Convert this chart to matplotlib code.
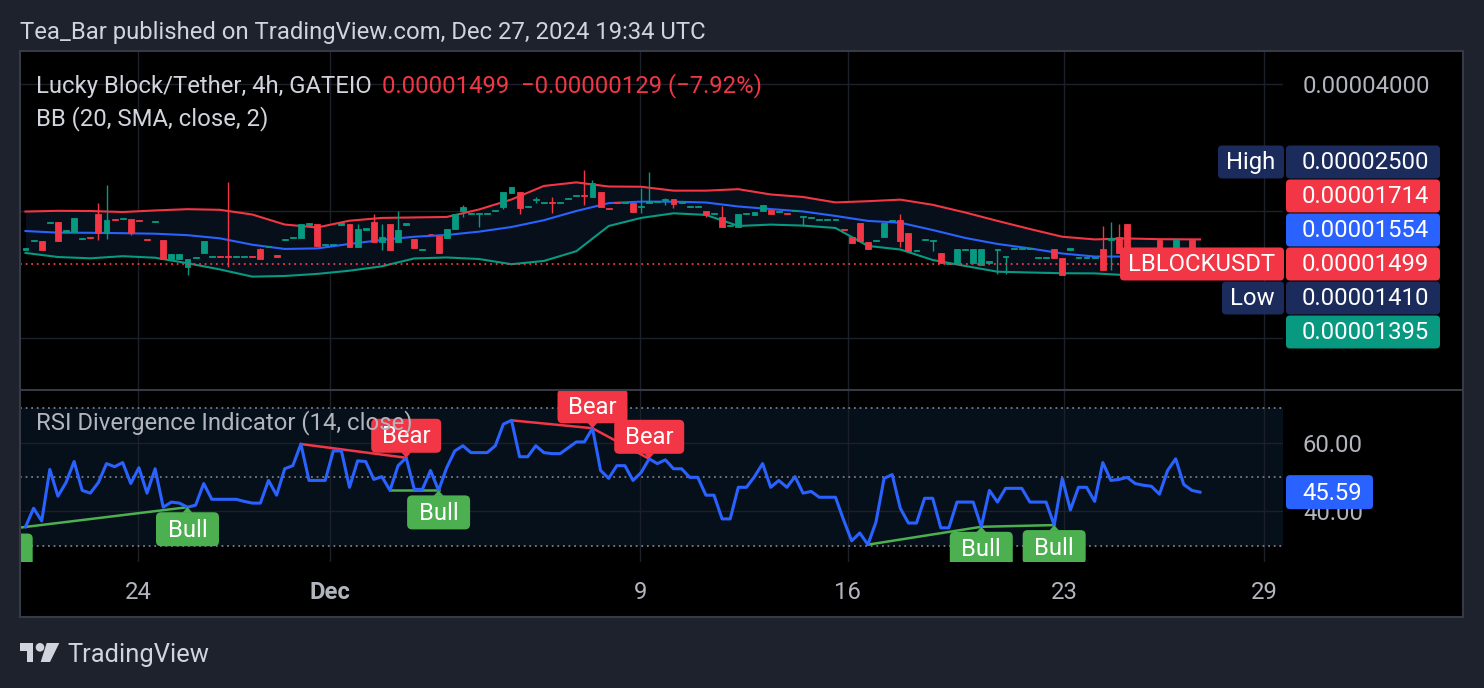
import numpy as np
import matplotlib.pyplot as plt
from matplotlib.patches import FancyBboxPatch, Polygon, Circle, Rectangle
from matplotlib.lines import Line2D
from matplotlib.transforms import IdentityTransform
from matplotlib.ticker import FixedLocator, NullLocator, FuncFormatter

plt.rcParams['font.family'] = ['Roboto', 'DejaVu Sans']

W, H, DPI = 1484, 688, 100

# LBLOCK/USDT 4h candles, prices in units of 1e-8 USDT
open_e8 = [
    1618, 1695, 1703, 1870, 1888, 1785, 1788, 1714, 1737, 1969,
    1772, 1911, 1911, 1913, 1904, 1714, 1883, 1709, 1538, 1538,
    1477, 1547, 1594, 1556, 1564, 1564, 1556, 1556, 1564, 1624,
    1643, 1570, 1704, 1726, 1725, 1859, 1864, 1658, 1658, 1859,
    1864, 1642, 1809, 1888, 1693, 1864, 1693, 1859, 1716, 1620,
    1770, 1747, 1725, 1811, 2001, 1971, 1971, 1971, 1996, 2042,
    2212, 2224, 2043, 2119, 2093, 2104, 2093, 2131, 2170, 2182,
    2164, 2216, 2029, 2100, 2089, 2087, 2043, 2091, 2100, 2119,
    2133, 2089, 2043, 2043, 2004, 1971, 1940, 1839, 1837, 1971,
    1958, 2004, 2012, 1988, 1982, 1999, 1935, 1925, 1901, 1901,
    1901, 1816, 1734, 1872, 1693, 1698, 1734, 1890, 1906, 1772,
    1607, 1704, 1698, 1594, 1501, 1505, 1620, 1505, 1491, 1511,
    1620, 1556, 1629, 1629, 1629, 1551, 1551, 1627, 1546, 1622,
    1551, 1551, 1551, 1627, 1709, 1740, 1864, 1618, 1592, 1587,
    1709, 1609, 1600, 1614, 1709, 1628]
close_e8 = [
    1632, 1709, 1618, 1885, 1703, 1804, 1924, 1723, 1728, 1772,
    1906, 1901, 1922, 1772, 1894, 1704, 1894, 1538, 1580, 1580,
    1538, 1556, 1703, 1564, 1556, 1556, 1564, 1564, 1556, 1538,
    1652, 1561, 1714, 1735, 1864, 1870, 1654, 1668, 1668, 1870,
    1642, 1811, 1819, 1693, 1734, 1618, 1804, 1870, 1633, 1629,
    1761, 1589, 1811, 1969, 2046, 1982, 1982, 1982, 2007, 2216,
    2277, 2031, 2055, 2131, 2104, 2093, 2104, 2143, 2182, 2170,
    2328, 2049, 2018, 2089, 2100, 1994, 2055, 2117, 2111, 2131,
    2079, 2100, 2055, 2055, 1958, 1982, 1831, 1849, 1969, 1982,
    1994, 2068, 1969, 1999, 1971, 2010, 1946, 1935, 1911, 1911,
    1911, 1806, 1684, 1703, 1624, 1707, 1878, 1901, 1703, 1609,
    1616, 1714, 1707, 1505, 1509, 1624, 1629, 1624, 1624, 1520,
    1629, 1564, 1638, 1638, 1638, 1559, 1559, 1546, 1412, 1632,
    1559, 1559, 1559, 1451, 1728, 1589, 1600, 1609, 1600, 1578,
    1574, 1618, 1709, 1622, 1628, 1499]
high_e8 = [
    1632, 1709, 1703, 1885, 1888, 1804, 1924, 1723, 1737, 2087,
    2306, 1911, 1922, 1913, 1904, 1714, 1894, 1709, 1580, 1580,
    1538, 1556, 1703, 1564, 1564, 2348, 1564, 1564, 1564, 1639,
    1652, 1570, 1714, 1735, 1864, 1870, 1864, 1668, 1668, 1870,
    1864, 1864, 1819, 1969, 1864, 1864, 2001, 1870, 1716, 1629,
    1770, 1747, 1811, 1969, 2068, 1982, 1982, 1982, 2007, 2216,
    2277, 2224, 2055, 2160, 2104, 2164, 2104, 2143, 2182, 2500,
    2370, 2216, 2029, 2100, 2100, 2087, 2265, 2480, 2111, 2148,
    2133, 2100, 2055, 2055, 2004, 1982, 2057, 1849, 1969, 1982,
    1994, 2068, 2012, 1999, 1982, 2010, 1946, 1935, 1911, 1911,
    1911, 1816, 1734, 1872, 1693, 1707, 1878, 1901, 1969, 1772,
    1616, 1714, 1707, 1594, 1509, 1624, 1629, 1624, 1624, 1520,
    1629, 1564, 1638, 1638, 1638, 1559, 1559, 1627, 1546, 1632,
    1559, 1559, 1559, 1844, 1888, 1864, 1864, 1618, 1600, 1587,
    1709, 1618, 1728, 1622, 1709, 1628]
low_e8 = [
    1618, 1695, 1618, 1870, 1703, 1785, 1788, 1714, 1728, 1709,
    1716, 1901, 1911, 1756, 1894, 1704, 1883, 1538, 1538, 1538,
    1410, 1547, 1594, 1556, 1556, 1473, 1556, 1556, 1556, 1538,
    1643, 1561, 1704, 1726, 1725, 1859, 1654, 1658, 1658, 1859,
    1642, 1642, 1809, 1693, 1618, 1618, 1693, 1859, 1633, 1620,
    1761, 1589, 1725, 1811, 1940, 1971, 1834, 1971, 1996, 2023,
    2212, 1969, 2043, 2091, 2093, 1976, 2093, 2131, 2170, 2068,
    2164, 2049, 2018, 2089, 2089, 1994, 1976, 2091, 2100, 2068,
    2034, 2089, 2043, 2043, 1937, 1971, 1831, 1839, 1837, 1971,
    1958, 2004, 1969, 1988, 1971, 1999, 1844, 1925, 1901, 1901,
    1901, 1806, 1684, 1703, 1624, 1698, 1734, 1890, 1648, 1609,
    1607, 1704, 1609, 1505, 1501, 1505, 1620, 1505, 1491, 1511,
    1420, 1420, 1629, 1629, 1629, 1551, 1551, 1546, 1412, 1622,
    1551, 1551, 1551, 1451, 1451, 1589, 1600, 1609, 1592, 1578,
    1574, 1609, 1600, 1614, 1628, 1499]

# Bollinger bands (20, 2), read every 4th bar, same units
bb_bars = list(range(0, 141, 4)) + [145]
bb_upper_e8 = [1995, 2003, 2001, 1990, 2007, 2021, 2014, 1963, 1859, 1829,
               1898, 1927, 1932, 1937, 2018, 2131, 2294, 2339, 2287, 2284,
               2236, 2236, 2254, 2190, 2160, 2097, 2111, 2129, 2070, 1985,
               1896, 1814, 1739, 1714, 1723, 1716, 1714]
bb_mid_e8 = [1794, 1778, 1777, 1773, 1768, 1754, 1724, 1665, 1627, 1632,
             1672, 1709, 1739, 1756, 1788, 1834, 1903, 2001, 2089, 2106,
             2106, 2096, 2051, 2022, 1996, 1948, 1896, 1877, 1804, 1728,
             1672, 1632, 1587, 1561, 1561, 1557, 1554]
bb_lower_e8 = [1592, 1557, 1546, 1564, 1551, 1505, 1455, 1399, 1404, 1420,
               1445, 1480, 1545, 1553, 1540, 1497, 1524, 1607, 1844, 1927,
               1976, 1959, 1844, 1858, 1848, 1824, 1654, 1622, 1532, 1483,
               1437, 1431, 1425, 1424, 1410, 1403, 1395]

# RSI(14)
rsi = [35.5, 40.9, 37.2, 52.2, 44.4, 48.4, 54.5, 46.1, 45.3, 48.4,
       53.9, 53.0, 54.2, 48.1, 52.7, 45.3, 52.4, 41.2, 42.7, 42.4,
       41.2, 41.8, 48.1, 43.5, 43.5, 43.5, 43.5, 42.9, 42.4, 42.4,
       49.0, 44.7, 52.4, 53.3, 59.6, 49.0, 49.0, 49.0, 57.6, 57.6,
       47.0, 54.7, 54.5, 49.3, 50.1, 46.1, 53.3, 55.6, 46.4, 46.4,
       51.9, 46.1, 52.7, 57.6, 59.1, 57.1, 57.1, 57.1, 59.1, 65.4,
       66.5, 55.9, 55.9, 59.1, 57.1, 56.8, 56.8, 58.5, 60.2, 60.2,
       64.2, 51.9, 49.6, 53.3, 53.3, 49.0, 51.3, 55.3, 53.9, 55.0,
       52.4, 52.4, 49.9, 49.9, 44.7, 44.7, 37.8, 37.8, 47.0, 47.0,
       50.1, 53.9, 47.0, 49.0, 47.0, 50.1, 45.3, 45.8, 44.1, 44.1,
       44.1, 37.5, 31.4, 33.7, 30.3, 36.9, 49.6, 50.7, 40.9, 36.6,
       36.6, 43.8, 43.8, 35.2, 35.2, 42.7, 42.7, 42.7, 35.5, 46.1,
       42.7, 46.7, 46.7, 46.7, 42.7, 42.7, 42.7, 36.0, 49.6, 40.4,
       47.0, 47.0, 42.9, 54.2, 49.0, 49.3, 49.9, 48.1, 47.6, 47.3,
       45.0, 51.9, 55.3, 47.8, 46.1, 45.59]

# divergence lines (bar, rsi) -> (bar, rsi)
div_kind = ['bull', 'bear', 'bull', 'bear', 'bear', 'bull', 'bull']
div_from_bar = [-3, 34, 45, 60, 70, 104, 118]
div_from_rsi = [34.6, 59.6, 46.1, 66.5, 64.2, 30.3, 35.5]
div_to_bar = [20, 47, 51, 70, 77, 118, 127]
div_to_rsi = [41.2, 55.6, 46.1, 64.2, 55.3, 35.5, 36.0]
# signal labels
sig_kind = ['bull', 'bull', 'bear', 'bull', 'bear', 'bear', 'bull', 'bull']
sig_bar = [-3, 20, 47, 51, 70, 77, 118, 127]
sig_rsi = [35.0, 41.2, 55.6, 46.1, 64.2, 55.3, 35.5, 36.0]

# time axis
tick_pos = [13.9, 37.6, 75.9, 101.5, 128.2, 152.9]
tick_labels = ['24', 'Dec', '9', '16', '23', '29']

BG = '#1e222d'
GRID = '#1c2029'
BORDER = '#363a45'
TEXT = '#d1d4dc'
AXTEXT = '#b2b5be'
UP = '#089981'
DOWN = '#f23645'
BLUE = '#2962ff'
NAVY = '#1b2c5c'
BULL = '#4caf50'
FS = 17.2

o = np.array(open_e8) * 1e-8
c = np.array(close_e8) * 1e-8
hi = np.array(high_e8) * 1e-8
lo = np.array(low_e8) * 1e-8
x = np.arange(len(o))

fig = plt.figure(figsize=(W / DPI, H / DPI), dpi=DPI, facecolor=BG)
ID = IdentityTransform()


def Y(y):  # top-down pixel -> display
    return H - y


# chart frame
fig.add_artist(Rectangle((20, Y(617)), 1443, 566, fc='black', ec='none',
                         transform=ID, zorder=-1))

ax_p = fig.add_axes([20 / W, (H - 390) / H, 1263 / W, 339 / H], facecolor='black')
ax_r = fig.add_axes([20 / W, (H - 562) / H, 1263 / W, 171 / H], facecolor='black')
for ax in (ax_p, ax_r):
    for s in ax.spines.values():
        s.set_visible(False)
    ax.set_xlim(-0.68, 155.25)
    ax.set_xticks(tick_pos)
    ax.grid(True, color=GRID, lw=1.0)
    ax.set_axisbelow(True)
    ax.yaxis.tick_right()
    ax.tick_params(axis='y', length=0, pad=14.4, labelsize=FS, labelcolor=AXTEXT)
    ax.tick_params(axis='x', length=0)

# ---- price pane
ax_p.set_yscale('log')
ax_p.set_ylim(7.54e-6, 4.788e-5)
ax_p.yaxis.set_major_locator(FixedLocator([1e-5, 2e-5, 4e-5]))
ax_p.yaxis.set_minor_locator(NullLocator())
# the lower scale labels sit under the price tags, only the top one shows
ax_p.yaxis.set_major_formatter(FuncFormatter(lambda v, p: f'{v:.8f}' if v > 3e-5 else ''))
ax_p.tick_params(axis='x', labelbottom=False)

bu = np.array(bb_upper_e8) * 1e-8
bm = np.array(bb_mid_e8) * 1e-8
bl = np.array(bb_lower_e8) * 1e-8
ax_p.fill_between(bb_bars, bl, bu, color='#07101a', lw=0, zorder=1)
ax_p.plot(bb_bars, bu, color=DOWN, lw=1.5, zorder=2)
ax_p.plot(bb_bars, bm, color=BLUE, lw=1.5, zorder=2)
ax_p.plot(bb_bars, bl, color=UP, lw=1.5, zorder=2)

cols = np.where(c >= o, UP, DOWN)
ax_p.vlines(x, lo, hi, colors=cols, lw=1.0, zorder=3)
ax_p.bar(x, np.abs(c - o), bottom=np.minimum(o, c), width=0.72, color=cols,
         edgecolor=cols, lw=0.6, zorder=4)
ax_p.axhline(c[-1], color=DOWN, lw=1.3, ls=(0, (1, 2.1)), zorder=5)

# legend
fig.text(36 / W, Y(86) / H, 'Lucky Block/Tether, 4h, GATEIO', color=TEXT,
         fontsize=FS, va='center')
chg = close_e8[-1] - close_e8[-2]
pct = chg / close_e8[-2] * 100
sign = '−' if chg < 0 else '+'
fig.text(382 / W, Y(86) / H,
         f'{c[-1]:.8f}  {sign}{abs(chg) * 1e-8:.8f} ({sign}{abs(pct):.2f}%)',
         color=DOWN, fontsize=FS, va='center')
fig.text(36 / W, Y(119) / H, 'BB (20, SMA, close, 2)', color=TEXT, fontsize=FS, va='center')

# ---- RSI pane
ax_r.set_ylim(25.25, 75.04)
ax_r.axhspan(30, 70, color='#06101a', lw=0, zorder=0.2)
for v in (70, 50, 30):
    ax_r.axhline(v, color='#787b86', lw=1.3, ls=(0, (1, 2.1)), zorder=1)
ax_r.yaxis.set_major_locator(FixedLocator([40, 60]))
ax_r.yaxis.set_major_formatter(FuncFormatter(lambda v, p: f'{v:.2f}'))
ax_r.set_xticklabels(tick_labels)
ax_r.tick_params(axis='x', pad=13.8, labelsize=FS, labelcolor=AXTEXT)
ax_r.get_xticklabels()[1].set_fontweight('bold')

for k, b0, v0, b1, v1 in zip(div_kind, div_from_bar, div_from_rsi, div_to_bar, div_to_rsi):
    ax_r.plot([b0, b1], [v0, v1], color=BULL if k == 'bull' else DOWN, lw=1.8, zorder=3)
ax_r.plot(x, rsi, color=BLUE, lw=2.2, zorder=4)
fig.text(36 / W, Y(423) / H, 'RSI Divergence Indicator (14, close)', color=AXTEXT,
         fontsize=FS, va='center', zorder=0.5)


def rbox(parent, x0, x1, yc, h, color, r=4, z=6):
    p = FancyBboxPatch((x0, yc - h / 2), x1 - x0, h,
                       boxstyle=f'round,pad=0,rounding_size={r}',
                       fc=color, ec='none', lw=0, transform=ID, zorder=z)
    if parent is fig:
        fig.add_artist(p)
    else:
        parent.add_patch(p)


# bull / bear labels
for k, b, v in zip(sig_kind, sig_bar, sig_rsi):
    px, py = ax_r.transData.transform((b, v))
    col = BULL if k == 'bull' else DOWN
    hw = 31.5 if k == 'bull' else 35
    if k == 'bull':
        yc = py - 5 - 17
        tri = [(px - 5, py - 5.5), (px + 5, py - 5.5), (px, py)]
    else:
        yc = py + 5 + 17
        tri = [(px - 5, py + 5.5), (px + 5, py + 5.5), (px, py)]
    rbox(ax_r, px - hw, px + hw, yc, 34, col, r=5, z=6)
    ax_r.add_patch(Polygon(tri, closed=True, fc=col, ec='none', transform=ID, zorder=6))
    ax_r.text(px, yc - 1, 'Bull' if k == 'bull' else 'Bear', color='white', fontsize=FS,
              ha='center', va='center', transform=ID, clip_on=True, zorder=7)

# price scale labels, stacked around the last close
_, yc0 = ax_p.transData.transform((0, c[-1]))
price_tags = [
    ('High', max(high_e8), NAVY, 1218),
    (None, bb_upper_e8[-1], DOWN, None),
    (None, bb_mid_e8[-1], BLUE, None),
    ('LBLOCKUSDT', close_e8[-1], DOWN, 1120),
    ('Low', min(low_e8), NAVY, 1222),
    (None, bb_lower_e8[-1], UP, None),
]
for i, (name, val, col, lx) in enumerate(price_tags):
    yc = yc0 + (3 - i) * 34
    rbox(fig, 1286, 1440, yc, 33, col, r=4)
    fig.text(1302 / W, (yc - 1) / H, f'{val * 1e-8:.8f}', color='white', fontsize=FS,
             va='center', ha='left', zorder=8)
    if name:
        rbox(fig, lx, 1284, yc, 33, col, r=4)
        fig.text(1275 / W, (yc - 1) / H, name, color='white', fontsize=FS,
                 va='center', ha='right', zorder=8)

_, yr = ax_r.transData.transform((0, rsi[-1]))
rbox(fig, 1286, 1373, yr, 34, BLUE, r=4)
fig.text(1302 / W, (yr - 1) / H, f'{rsi[-1]:.2f}', color='white', fontsize=FS,
         va='center', ha='left', zorder=8)

# frame border and pane separator
fig.add_artist(Rectangle((20, Y(617)), 1443, 566, fill=False, ec=BORDER, lw=1.5,
                         transform=ID, zorder=9))
fig.add_artist(Line2D([20, 1463], [Y(390), Y(390)], color=BORDER, lw=1.5,
                      transform=ID, zorder=9))

# header and footer
fig.text(20 / W, Y(32) / H, 'Tea_Bar published on TradingView.com, Dec 27, 2024 19:34 UTC',
         color=TEXT, fontsize=FS, va='center')
logo = TEXT
fig.add_artist(Polygon([(20, Y(643)), (33.3, Y(643)), (33.3, Y(662)), (26.7, Y(662)),
                        (26.7, Y(650.7)), (20, Y(650.7))], closed=True, fc=logo,
                       ec='none', transform=ID))
fig.add_artist(Circle((40, Y(647.3)), 4.3, fc=logo, ec='none', transform=ID))
fig.add_artist(Polygon([(46.7, Y(643)), (59.3, Y(643)), (50, Y(662)), (40.7, Y(662))],
                       closed=True, fc=logo, ec='none', transform=ID))
fig.text(67 / W, Y(655) / H, 'TradingView', color=TEXT, fontsize=18.4, va='center')

fig.savefig('out.png', dpi=DPI, facecolor=BG)
